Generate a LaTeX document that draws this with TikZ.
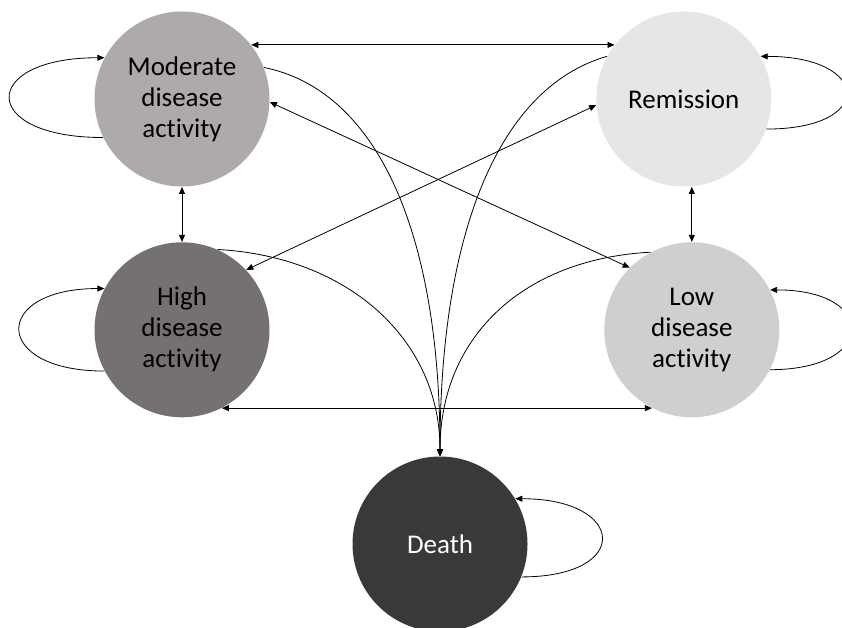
\documentclass[tikz,border=0pt]{standalone}
\usepackage{fontspec}
\setmainfont[Ligatures=NoCommon]{Carlito}
\usetikzlibrary{arrows.meta,positioning}
\definecolor{gris-mod}{HTML}{AEAAAA}
\definecolor{gris-rem}{HTML}{E7E6E6}
\definecolor{gris-high}{HTML}{757171}
\definecolor{gris-low}{HTML}{D0CECE}
\definecolor{gris-death}{HTML}{3B3838}

\begin{document}
\begin{tikzpicture}[x=1pt, y=1pt, >={Triangle[length=7pt,width=6pt]}, line width=0.8pt,
	   st/.style={circle, minimum size=175pt, inner sep=0pt, align=center, font=\fontsize{27}{31}\selectfont}]
	  \useasboundingbox (0,0) rectangle (842,627);
	  \node[st, fill=gris-mod] (Mod) at (182,528) {Moderate\\ disease\\ activity};
	  \node[st, fill=gris-rem, right=326pt of Mod] (Rem) {Remission};
	  \node[st, fill=gris-high, below=55pt of Mod] (High) {High\\ disease\\ activity};
	  \node[st, fill=gris-low, right=334pt of High] (Low) {Low\\ disease\\ activity};
	  \node[st, fill=gris-death, text=white] (Death) at (440,83) {Death};
	  % between states
	  \draw[<->] (Mod.38) -- (Rem.142);
	  \draw[<->] (Mod.south) -- (High.north);
	  \draw[<->] (Rem.south -| Low.north) -- (Low.north);
	  \draw[<->] (High.297) -- (Low.243);
	  \draw[<->] (Mod.-2) -- (Low.135);
	  \draw[<->] (High.43) -- (Rem.184);
	  % to death
	  \draw[->] (Mod.21) .. controls +(110,-22) and +(0,230) .. (Death.north);
	  \draw[->] (Rem.151) .. controls +(-105,-30) and +(0,230) .. (Death.north);
	  \draw[->] (High.66) .. controls +(130,-7) and +(0,117) .. (Death.north);
	  \draw[->] (Low.118) .. controls +(-130,-7) and +(0,117) .. (Death.north);
	  % staying
	  \draw[->] (Mod.206) .. controls +(-125,0) and +(-125,0) .. (Mod.152);
	  \draw[->] (High.208) .. controls +(-113,0) and +(-113,0) .. (High.152);
	  \draw[->] (Rem.-20) .. controls +(110,0) and +(110,0) .. (Rem.29);
	  \draw[->] (Low.-27) .. controls +(108,0) and +(108,0) .. (Low.27);
	  \draw[->] (Death.-22) .. controls +(111,0) and +(111,0) .. (Death.31);
	\end{tikzpicture}
\end{document}
